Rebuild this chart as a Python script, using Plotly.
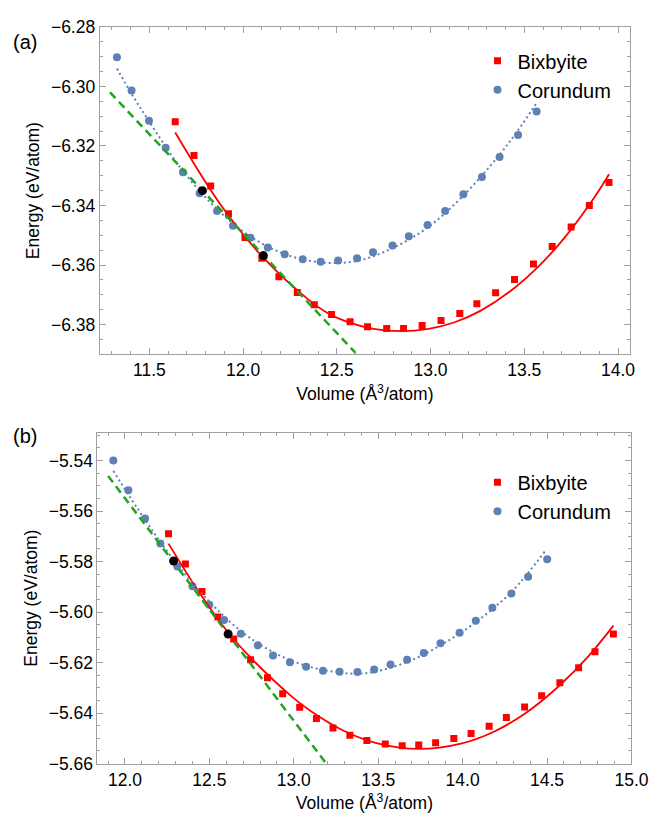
import plotly.graph_objects as go

# ---------------- Panel (a) data ----------------
a_cor_v = [11.327, 11.405, 11.498, 11.587, 11.679, 11.768, 11.861, 11.946, 12.039, 12.132, 12.222, 12.318, 12.414,
           12.507, 12.608, 12.693, 12.797, 12.884, 12.984, 13.078, 13.175, 13.274, 13.368, 13.467, 13.566]
a_cor_e = [-6.2902, -6.3014, -6.3115, -6.3206, -6.3288, -6.3359, -6.3418, -6.3468, -6.3508, -6.3541, -6.3564, -6.3580, -6.3589,
           -6.3585, -6.3577, -6.3557, -6.3534, -6.3503, -6.3465, -6.3418, -6.3362, -6.3304, -6.3237, -6.3163, -6.3084]
a_bix_v = [11.638, 11.738, 11.827, 11.922, 12.010, 12.100, 12.191, 12.289, 12.380, 12.472, 12.571, 12.664, 12.766,
           12.856, 12.955, 13.056, 13.156, 13.247, 13.347, 13.448, 13.549, 13.649, 13.750, 13.847, 13.952]
a_bix_e = [-6.3119, -6.3232, -6.3334, -6.3428, -6.3507, -6.3577, -6.3639, -6.3692, -6.3733, -6.3766, -6.3790, -6.3807, -6.3813,
           -6.3813, -6.3803, -6.3786, -6.3763, -6.3730, -6.3693, -6.3648, -6.3596, -6.3538, -6.3472, -6.3400, -6.3323]
a_bix_fit_v = [11.638, 11.882, 12.108, 12.347, 12.451, 12.556, 12.695, 12.842, 12.990, 13.129, 13.268, 13.425, 13.583, 13.724, 13.878, 13.952]
a_bix_fit_e = [-6.3155, -6.3399, -6.3575, -6.3715, -6.3761, -6.3791, -6.3814, -6.3822, -6.3814, -6.3792, -6.3753, -6.3688, -6.3600, -6.3501, -6.3369, -6.3295]
a_cor_fit_v = [11.327, 11.405, 11.498, 11.679, 11.861, 12.039, 12.222, 12.414, 12.608, 12.797, 12.984, 13.176, 13.368, 13.467, 13.566]
a_cor_fit_e = [-6.2940, -6.3025, -6.3117, -6.3284, -6.3412, -6.3504, -6.3563, -6.3591, -6.3586, -6.3543, -6.3474, -6.3366, -6.3229, -6.3147, -6.3055]
a_tan_v = [11.29, 12.60]
a_tan_e = [-6.3020, -6.3895]
a_pts_v = [11.783, 12.108]
a_pts_e = [-6.3350, -6.3568]

# ---------------- Panel (b) data ----------------
b_cor_v = [11.931, 12.020, 12.119, 12.210, 12.310, 12.400, 12.500, 12.587, 12.686, 12.787, 12.877, 12.977, 13.073, 13.173,
           13.271, 13.377, 13.476, 13.573, 13.671, 13.770, 13.869, 13.982, 14.078, 14.176, 14.289, 14.388, 14.501]
b_cor_e = [-5.5400, -5.5518, -5.5630, -5.5729, -5.5820, -5.5898, -5.5971, -5.6032, -5.6086, -5.6132, -5.6172, -5.6199, -5.6217, -5.6233,
           -5.6237, -5.6238, -5.6228, -5.6208, -5.6189, -5.6162, -5.6124, -5.6082, -5.6035, -5.5983, -5.5927, -5.5860, -5.5791]
b_bix_v = [12.258, 12.358, 12.456, 12.550, 12.644, 12.744, 12.844, 12.934, 13.035, 13.134, 13.232, 13.332, 13.433, 13.542,
           13.642, 13.740, 13.840, 13.948, 14.050, 14.157, 14.259, 14.367, 14.468, 14.576, 14.687, 14.784, 14.893]
b_bix_e = [-5.5690, -5.5810, -5.5919, -5.6020, -5.6107, -5.6189, -5.6260, -5.6324, -5.6377, -5.6422, -5.6459, -5.6488, -5.6509, -5.6523,
           -5.6530, -5.6527, -5.6518, -5.6501, -5.6481, -5.6452, -5.6418, -5.6376, -5.6332, -5.6280, -5.6221, -5.6157, -5.6087]
b_bix_fit_v = [12.258, 12.452, 12.611, 12.740, 12.990, 13.106, 13.298, 13.490, 13.740, 13.990, 14.182, 14.374, 14.566, 14.739, 14.893]
b_bix_fit_e = [-5.5729, -5.5935, -5.6081, -5.6178, -5.6336, -5.6395, -5.6471, -5.6519, -5.6542, -5.6521, -5.6475, -5.6400, -5.6296, -5.6180, -5.6054]
b_cor_fit_v = [11.931, 12.119, 12.310, 12.500, 12.686, 12.877, 13.073, 13.271, 13.377, 13.476, 13.671, 13.869, 14.078, 14.290, 14.494]
b_cor_fit_e = [-5.5441, -5.5635, -5.5812, -5.5959, -5.6075, -5.6159, -5.6213, -5.6240, -5.6244, -5.6237, -5.6198, -5.6132, -5.6040, -5.5920, -5.5754]
b_tan_v = [11.90, 13.192]
b_tan_e = [-5.5461, -5.6600]
b_pts_v = [12.288, 12.611]
b_pts_e = [-5.5798, -5.6087]

RED = "#FF0000"
BLUE = "#5E81B5"
GREEN = "#1FA51F"
FONT = "Liberation Sans, Arial, Helvetica, sans-serif"

fig = go.Figure()

def add_panel(xa, ya, leg, cor_v, cor_e, bix_v, bix_e, bfv, bfe, cfv, cfe, tv, te, pv, pe):
    fig.add_trace(go.Scatter(x=bix_v, y=bix_e, mode="markers", name="Bixbyite",
                             marker=dict(symbol="square", size=7, color=RED),
                             xaxis=xa, yaxis=ya, legend=leg))
    fig.add_trace(go.Scatter(x=cor_v, y=cor_e, mode="markers", name="Corundum",
                             marker=dict(symbol="circle", size=8, color=BLUE),
                             xaxis=xa, yaxis=ya, legend=leg))
    fig.add_trace(go.Scatter(x=bfv, y=bfe, mode="lines", showlegend=False,
                             line=dict(color=RED, width=1.8, shape="spline", smoothing=1.0),
                             xaxis=xa, yaxis=ya, hoverinfo="skip"))
    fig.add_trace(go.Scatter(x=cfv, y=cfe, mode="lines", showlegend=False,
                             line=dict(color=BLUE, width=2, dash="2px,3px", shape="spline", smoothing=1.0),
                             xaxis=xa, yaxis=ya, hoverinfo="skip"))
    fig.add_trace(go.Scatter(x=tv, y=te, mode="lines", showlegend=False,
                             line=dict(color=GREEN, width=2.5, dash="8px,5px"),
                             xaxis=xa, yaxis=ya, hoverinfo="skip"))
    fig.add_trace(go.Scatter(x=pv, y=pe, mode="markers", showlegend=False,
                             marker=dict(symbol="circle", size=9, color="black"),
                             xaxis=xa, yaxis=ya, hoverinfo="skip"))

add_panel("x", "y", "legend", a_cor_v, a_cor_e, a_bix_v, a_bix_e, a_bix_fit_v, a_bix_fit_e,
          a_cor_fit_v, a_cor_fit_e, a_tan_v, a_tan_e, a_pts_v, a_pts_e)
add_panel("x2", "y2", "legend2", b_cor_v, b_cor_e, b_bix_v, b_bix_e, b_bix_fit_v, b_bix_fit_e,
          b_cor_fit_v, b_cor_fit_e, b_tan_v, b_tan_e, b_pts_v, b_pts_e)

W, H = 666, 822

def ax_common(**kw):
    d = dict(showgrid=False, zeroline=False, showline=True, linecolor="#A0A0A0", linewidth=1,
             mirror="ticks", ticks="inside", ticklen=6, tickcolor="#A0A0A0", tickwidth=1,
             tickfont=dict(family=FONT, size=17.5, color="black"),
             title_font=dict(family=FONT, size=17.5, color="black"))
    d.update(kw)
    return d

xtitle = "Volume (Å<sup>3</sup>/atom)"
ytitle = "Energy (eV/atom)"

fig.update_layout(
    width=W, height=H, margin=dict(l=0, r=0, t=0, b=0),
    paper_bgcolor="white", plot_bgcolor="white",
    font=dict(family=FONT, color="black"),
    xaxis=ax_common(domain=[102.3 / W, 646.7 / W], anchor="y", range=[11.235, 14.065],
                    tickvals=[11.5, 12.0, 12.5, 13.0, 13.5, 14.0], ticktext=["11.5", "12.0", "12.5", "13.0", "13.5", "14.0"],
                    minor=dict(dtick=0.1, tick0=11.0, ticks="inside", ticklen=3, tickcolor="#A0A0A0"),
                    title=dict(text=xtitle, standoff=8)),
    yaxis=ax_common(domain=[1 - 353 / H, 1 - 17.3 / H], anchor="x", range=[-6.39, -6.28],
                    tickvals=[-6.28, -6.30, -6.32, -6.34, -6.36, -6.38],
                    ticktext=["−6.28", "−6.30", "−6.32", "−6.34", "−6.36", "−6.38"],
                    minor=dict(dtick=0.005, tick0=-6.4, ticks="inside", ticklen=3, tickcolor="#A0A0A0"),
                    title=dict(text=ytitle, standoff=6)),
    xaxis2=ax_common(domain=[100 / W, 648 / W], anchor="y2", range=[11.837, 15.0],
                     tickvals=[12.0, 12.5, 13.0, 13.5, 14.0, 14.5, 15.0],
                     ticktext=["12.0", "12.5", "13.0", "13.5", "14.0", "14.5", "15.0"],
                     minor=dict(dtick=0.1, tick0=11.0, ticks="inside", ticklen=3, tickcolor="#A0A0A0"),
                     title=dict(text=xtitle, standoff=8)),
    yaxis2=ax_common(domain=[1 - 772.3 / H, 1 - 433.3 / H], anchor="x2", range=[-5.66, -5.529],
                     tickvals=[-5.54, -5.56, -5.58, -5.60, -5.62, -5.64, -5.66],
                     ticktext=["−5.54", "−5.56", "−5.58", "−5.60", "−5.62", "−5.64", "−5.66"],
                     minor=dict(dtick=0.005, tick0=-5.7, ticks="inside", ticklen=3, tickcolor="#A0A0A0"),
                     title=dict(text=ytitle, standoff=6)),
    legend=dict(x=490 / W, y=1 - 32 / H, xanchor="left", yanchor="top", bgcolor="rgba(0,0,0,0)",
                font=dict(family=FONT, size=20, color="black"), itemwidth=30, tracegroupgap=0),
    legend2=dict(x=490 / W, y=1 - 464 / H, xanchor="left", yanchor="top", bgcolor="rgba(0,0,0,0)",
                 font=dict(family=FONT, size=20, color="black"), itemwidth=30, tracegroupgap=0),
    annotations=[
        dict(text="(a)", x=11 / W, y=1 - 33 / H, xref="paper", yref="paper", xanchor="left", yanchor="middle",
             showarrow=False, font=dict(family=FONT, size=20, color="black")),
        dict(text="(b)", x=11 / W, y=1 - 437 / H, xref="paper", yref="paper", xanchor="left", yanchor="middle",
             showarrow=False, font=dict(family=FONT, size=20, color="black")),
    ],
)

fig.write_html("out.html")
